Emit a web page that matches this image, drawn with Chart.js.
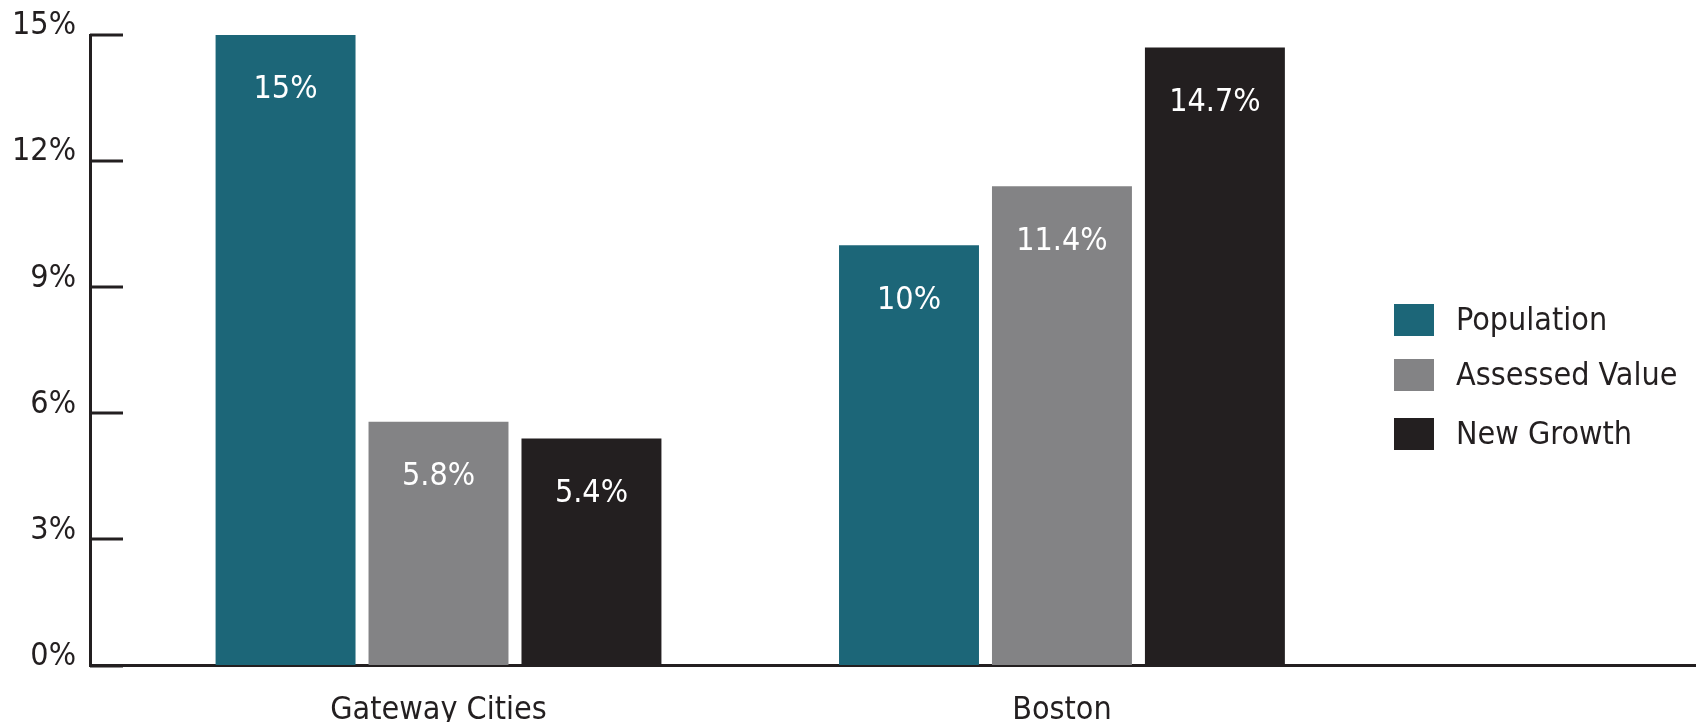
<!DOCTYPE html>
<html>
<head>
<meta charset="utf-8">
<script src="https://cdn.jsdelivr.net/npm/chart.js@4"></script>
<style>
  html, body { margin: 0; padding: 0; background: #fff; overflow: hidden; }
  #wrap { width: 1696px; height: 768px; }
</style>
</head>
<body>
<div id="wrap"><canvas id="growthChart"></canvas></div>
<script>
// Data
const categories = ['Gateway Cities', 'Boston'];
const population = [15, 10];
const assessedValue = [5.8, 11.4];
const newGrowth = [5.4, 14.7];
const seriesNames = ['Population', 'Assessed Value', 'New Growth'];
const yTicks = [0, 3, 6, 9, 12, 15];

const FONT = "'Liberation Sans Narrow', 'DejaVu Sans Condensed', 'Roboto', sans-serif";
const FONT_SIZE = 32;
const INK = '#231f20';
const COLORS = ['#1c6678', '#838385', '#231f20'];

function points(values) {
  return values.map((v, i) => ({ x: i, y: v }));
}

// Short tick marks pointing into the plot from the y axis
const innerTicks = {
  id: 'innerTicks',
  afterDatasetsDraw(chart) {
    const { ctx, chartArea, scales: { y } } = chart;
    ctx.save();
    ctx.strokeStyle = INK;
    ctx.lineWidth = 3;
    y.ticks.forEach(t => {
      const py = Math.round(y.getPixelForValue(t.value));
      ctx.beginPath();
      ctx.moveTo(chartArea.left, py);
      ctx.lineTo(chartArea.left + 33, py);
      ctx.stroke();
    });
    ctx.restore();
  }
};

// White value labels near the top of each bar
const barLabels = {
  id: 'barLabels',
  afterDatasetsDraw(chart) {
    const { ctx } = chart;
    ctx.save();
    ctx.fillStyle = '#ffffff';
    ctx.font = FONT_SIZE + 'px ' + FONT;
    ctx.textAlign = 'center';
    ctx.textBaseline = 'middle';
    chart.data.datasets.forEach((ds, di) => {
      chart.getDatasetMeta(di).data.forEach((bar, i) => {
        ctx.fillText(ds.data[i].y + '%', bar.x, bar.y + 55);
      });
    });
    ctx.restore();
  }
};

// Legend drawn on the right side, over the plot area
const sideLegend = {
  id: 'sideLegend',
  afterDraw(chart, args, opts) {
    const { ctx } = chart;
    ctx.save();
    ctx.font = FONT_SIZE + 'px ' + FONT;
    ctx.textBaseline = 'middle';
    chart.data.datasets.forEach((ds, i) => {
      const cy = opts.rows[i];
      ctx.fillStyle = ds.backgroundColor;
      ctx.fillRect(opts.x, cy - 16, 40, 32);
      ctx.fillStyle = INK;
      ctx.fillText(ds.label, opts.x + 62, cy + 2);
    });
    ctx.restore();
  }
};

const ctx = document.getElementById('growthChart').getContext('2d');
new Chart(ctx, {
  type: 'bar',
  data: {
    datasets: [
      { label: seriesNames[0], data: points(population), backgroundColor: COLORS[0] },
      { label: seriesNames[1], data: points(assessedValue), backgroundColor: COLORS[1] },
      { label: seriesNames[2], data: points(newGrowth), backgroundColor: COLORS[2] }
    ]
  },
  options: {
    responsive: true,
    maintainAspectRatio: false,
    animation: false,
    categoryPercentage: 0.736,
    barPercentage: 0.915,
    layout: { padding: { top: 35, right: 0, bottom: 12, left: 0 } },
    plugins: {
      legend: { display: false },
      tooltip: { enabled: false },
      sideLegend: { x: 1394, rows: [320, 375, 434] }
    },
    scales: {
      x: {
        type: 'linear',
        offset: false,
        min: -0.559,
        max: 2.017,
        afterBuildTicks(scale) { scale.ticks = categories.map((c, i) => ({ value: i })); },
        grid: { drawOnChartArea: false, drawTicks: false },
        border: { color: INK, width: 3 },
        ticks: {
          padding: 26,
          maxRotation: 0,
          color: INK,
          font: { family: FONT, size: FONT_SIZE },
          callback: v => categories[v]
        }
      },
      y: {
        min: 0,
        max: 15,
        afterBuildTicks(scale) { scale.ticks = yTicks.map(v => ({ value: v })); },
        afterFit(scale) { scale.width = 90; },
        grid: { drawOnChartArea: false, drawTicks: false },
        border: { color: INK, width: 3 },
        ticks: {
          padding: 14,
          labelOffset: -9,
          color: INK,
          font: { family: FONT, size: FONT_SIZE },
          callback: v => v + '%'
        }
      }
    }
  },
  plugins: [innerTicks, barLabels, sideLegend]
});
</script>
</body>
</html>
